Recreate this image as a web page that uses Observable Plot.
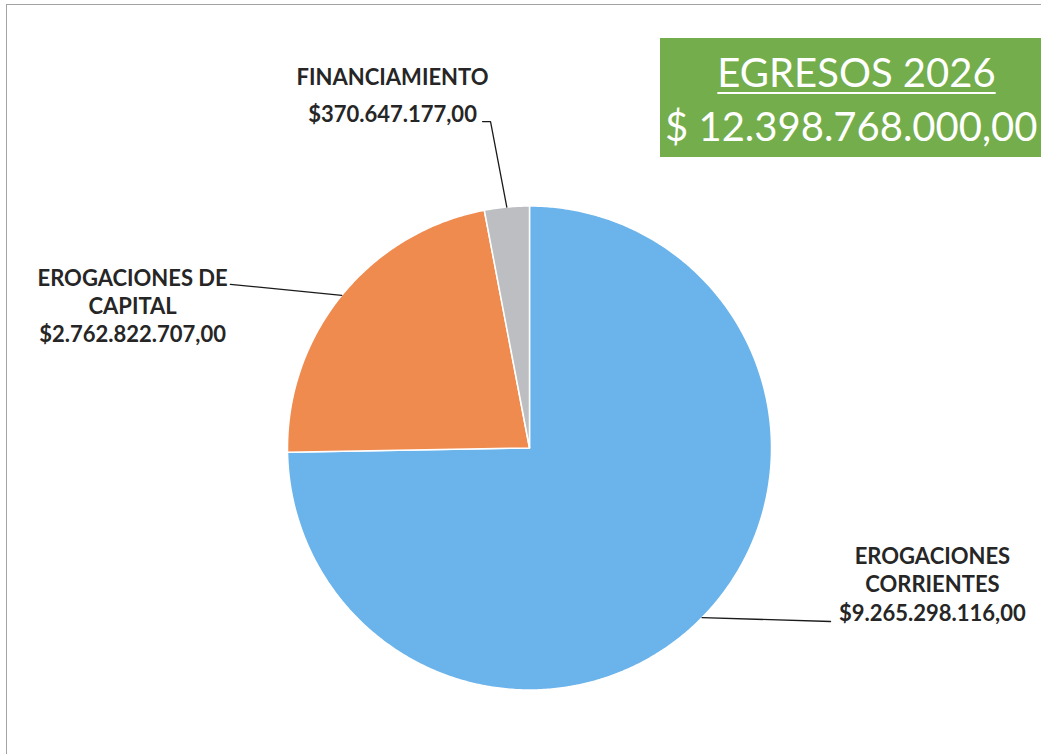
<!DOCTYPE html>
<html><head><meta charset="utf-8">
<script src="https://cdn.jsdelivr.net/npm/d3@7"></script>
<script src="https://cdn.jsdelivr.net/npm/@observablehq/plot@0.6"></script>
<style>
html,body{margin:0;padding:0;background:#fff;overflow:hidden;width:1041px;height:754px}
#wrap{position:relative;width:1041px;height:754px;overflow:hidden}
#chart{position:absolute;left:0;top:0}
#frame{position:absolute;left:6px;top:4px;width:1100px;height:800px;border-left:1.5px solid #a3a3a3;border-top:1.5px solid #a3a3a3;box-sizing:border-box}
#title{position:absolute;left:660px;top:38px;width:381px;height:119px;background:#74ad4b;color:#fff;font-family:Lato,sans-serif}
#t1{position:absolute;left:0;width:393px;text-align:center;top:12px;font-size:40px;line-height:44px;text-decoration:underline;text-decoration-thickness:2px;text-underline-offset:5px;white-space:nowrap}
#t2{position:absolute;left:5px;top:66px;font-size:40px;line-height:44px;white-space:nowrap}
</style></head>
<body>
<div id="wrap">
  <div id="chart"></div>
  <div id="frame"></div>
  <div id="title"><div id="t1">EGRESOS 2026</div><div id="t2"></div></div>
</div>
<script>
// ---- data ----
const categories = ["EROGACIONES CORRIENTES", "EROGACIONES DE CAPITAL", "FINANCIAMIENTO"];
const values = [9265298116, 2762822707, 370647177];
const labelNames = ["EROGACIONES\nCORRIENTES", "EROGACIONES DE\nCAPITAL", "FINANCIAMIENTO"];
const colors = ["#6ab3eb", "#f08b50", "#bcbec1"];
const titleText = "EGRESOS 2026";

// ---- layout (in pie-radius units, centre = 0,0, y up) ----
const labelAnchor = [[1.665, -0.713], [-1.640, 0.436], [-0.566, 1.349]];
const labelLineHeight = [1.29, 1.29, 1.68];
const leaderPath = [[[1.244, -0.717]], [[-1.236, 0.676]], [[-0.161, 1.349], [-0.194, 1.349]]];

const loc = d3.formatLocale({decimal: ",", thousands: ".", grouping: [3], currency: ["$", ""]});
const money = loc.format("$,.2f");
const total = d3.sum(values);
document.getElementById("t1").textContent = titleText;
document.getElementById("t2").textContent = "$ " + loc.format(",.2f")(total);

const pie = d3.pie().sort(null).value(d => d)(values);
const slices = pie.flatMap((p, i) => {
  const n = Math.max(2, Math.ceil((p.endAngle - p.startAngle) / (Math.PI / 360)));
  const pts = [{cat: categories[i], x: 0, y: 0}];
  for (let k = 0; k <= n; k++) {
    const a = p.startAngle + (p.endAngle - p.startAngle) * k / n;
    pts.push({cat: categories[i], x: Math.sin(a), y: Math.cos(a)});
  }
  pts.push({cat: categories[i], x: 0, y: 0});
  return pts;
});
const leaders = pie.flatMap((p, i) => {
  const m = (p.startAngle + p.endAngle) / 2;
  return [{cat: categories[i], x: Math.sin(m), y: Math.cos(m)},
    ...leaderPath[i].map(([x, y]) => ({cat: categories[i], x, y}))];
});
const labels = pie.map((p, i) => ({
  x: labelAnchor[i][0], y: labelAnchor[i][1], lh: labelLineHeight[i],
  text: labelNames[i] + "\n" + money(values[i])
}));

const textMarks = d3.groups(labels, d => d.lh).map(([lh, rows]) =>
  Plot.text(rows, {x: "x", y: "y", text: "text", lineAnchor: "bottom", textAnchor: "middle",
    fontSize: 22, lineHeight: lh, fontWeight: 700, fontFamily: "Lato", fill: "#262626"}));

const chart = Plot.plot({
  width: 1041, height: 754,
  margin: 0,
  x: {domain: [-1, 1], range: [287, 771], axis: null},
  y: {domain: [-1, 1], range: [689.5, 205.5], axis: null},
  color: {domain: categories, range: colors},
  style: {background: "transparent", overflow: "visible"},
  marks: [
    Plot.line(slices, {x: "x", y: "y", z: "cat", fill: "cat", stroke: "white", strokeWidth: 1.5, curve: "linear"}),
    Plot.line(leaders, {x: "x", y: "y", z: "cat", stroke: "#1a1a1a", strokeWidth: 1.3, curve: "linear"}),
    ...textMarks
  ]
});
document.getElementById("chart").appendChild(chart);
</script>
</body></html>
